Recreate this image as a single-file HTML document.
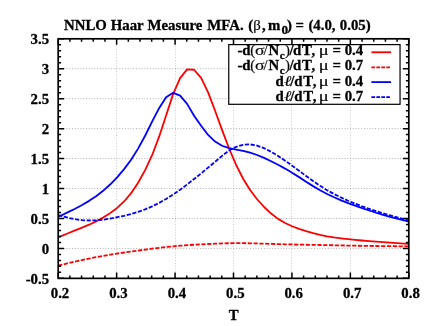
<!DOCTYPE html>
<html><head><meta charset="utf-8"><title>plot</title>
<style>html,body{margin:0;padding:0;background:#fff;overflow:hidden}svg{display:block;will-change:transform;opacity:0.999}text{font-family:"Liberation Serif",serif;font-weight:bold;font-size:14.8px;fill:#000;stroke:#000;stroke-width:0.3px}.sym{font-weight:normal;stroke-width:0.15px}</style></head><body>
<svg width="436" height="326" viewBox="0 0 436 326">
<rect x="0" y="0" width="436" height="326" fill="#fff"/>
<g stroke="#000" stroke-opacity="0.45" stroke-width="0.8" stroke-dasharray="0.9 1.88" fill="none">
<line x1="116.50" y1="277.75" x2="116.50" y2="38.80" stroke-opacity="0.29"/>
<line x1="175.50" y1="277.75" x2="175.50" y2="38.80" stroke-opacity="0.29"/>
<line x1="233.50" y1="277.75" x2="233.50" y2="38.80" stroke-opacity="0.29"/>
<line x1="291.50" y1="277.75" x2="291.50" y2="38.80" stroke-opacity="0.29"/>
<line x1="350.50" y1="277.75" x2="350.50" y2="38.80" stroke-opacity="0.29"/>
<line x1="58.20" y1="248.41" x2="408.80" y2="248.41"/>
<line x1="58.20" y1="218.46" x2="408.80" y2="218.46"/>
<line x1="58.20" y1="188.52" x2="408.80" y2="188.52"/>
<line x1="58.20" y1="158.58" x2="408.80" y2="158.58"/>
<line x1="58.20" y1="128.63" x2="408.80" y2="128.63"/>
<line x1="58.20" y1="98.69" x2="408.80" y2="98.69"/>
<line x1="58.20" y1="68.74" x2="408.80" y2="68.74"/>
</g>
<g fill="none" stroke-width="1.8" stroke-linejoin="round" stroke-linecap="butt">
<path d="M58.2,237.37 L61.1,236.16 L68.1,233.24 L75.1,230.42 L82.1,227.62 L89.1,224.69 L96.1,221.41 L103.1,217.60 L110.1,213.15 L117.1,207.93 L124.1,201.46 L131.1,193.16 L138.1,182.75 L145.1,170.18 L152.1,155.20 L159.1,136.68 L166.1,115.50 L173.1,94.10 L180.1,78.17 L187.1,69.40 L194.1,69.75 L201.1,77.90 L208.1,92.36 L215.1,110.79 L222.1,130.08 L229.1,148.50 L236.1,164.90 L243.1,178.74 L250.1,189.99 L257.1,199.27 L264.1,207.01 L271.1,213.55 L278.1,218.89 L285.1,223.04 L292.1,226.26 L299.1,228.89 L306.1,231.17 L313.1,233.18 L320.1,234.92 L327.1,236.33 L334.1,237.43 L341.1,238.31 L348.1,239.09 L355.1,239.81 L362.1,240.49 L369.1,241.12 L376.1,241.66 L383.1,242.14 L390.1,242.59 L397.1,243.06 L404.1,243.55 L408.8,243.89" stroke="#ff0000"/>
<path d="M58.2,265.66 L61.1,264.93 L68.1,263.19 L75.1,261.56 L82.1,260.02 L89.1,258.57 L96.1,257.19 L103.1,255.90 L110.1,254.69 L117.1,253.56 L124.1,252.51 L131.1,251.50 L138.1,250.53 L145.1,249.59 L152.1,248.69 L159.1,247.83 L166.1,247.03 L173.1,246.32 L180.1,245.71 L187.1,245.19 L194.1,244.74 L201.1,244.35 L208.1,244.00 L215.1,243.69 L222.1,243.43 L229.1,243.26 L236.1,243.17 L243.1,243.18 L250.1,243.29 L257.1,243.46 L264.1,243.67 L271.1,243.89 L278.1,244.10 L285.1,244.29 L292.1,244.45 L299.1,244.60 L306.1,244.73 L313.1,244.85 L320.1,244.98 L327.1,245.12 L334.1,245.27 L341.1,245.42 L348.1,245.58 L355.1,245.72 L362.1,245.84 L369.1,245.94 L376.1,246.02 L383.1,246.10 L390.1,246.18 L397.1,246.26 L404.1,246.34 L408.8,246.40" stroke="#ff0000" stroke-dasharray="4.2 1.6"/>
<path d="M58.2,216.78 L61.1,215.47 L68.1,212.18 L75.1,208.69 L82.1,204.96 L89.1,200.87 L96.1,196.21 L103.1,190.81 L110.1,184.52 L117.1,177.30 L124.1,169.11 L131.1,159.67 L138.1,148.61 L145.1,135.74 L152.1,121.62 L159.1,108.20 L166.1,97.20 L173.1,92.80 L180.1,95.61 L187.1,103.90 L194.1,115.70 L201.1,125.70 L208.1,134.92 L215.1,141.58 L222.1,145.76 L229.1,148.13 L236.1,149.62 L243.1,150.98 L250.1,152.70 L257.1,154.99 L264.1,157.88 L271.1,161.21 L278.1,164.79 L285.1,168.59 L292.1,172.68 L299.1,177.12 L306.1,181.70 L313.1,186.13 L320.1,190.23 L327.1,193.94 L334.1,197.28 L341.1,200.33 L348.1,203.12 L355.1,205.70 L362.1,208.13 L369.1,210.48 L376.1,212.74 L383.1,214.88 L390.1,216.89 L397.1,218.74 L404.1,220.47 L408.8,221.60" stroke="#0000ff"/>
<path d="M58.2,215.02 L61.1,215.82 L68.1,217.79 L75.1,219.23 L82.1,220.14 L89.1,220.50 L96.1,220.33 L103.1,219.67 L110.1,218.58 L117.1,217.18 L124.1,215.76 L131.1,214.07 L138.1,211.90 L145.1,209.35 L152.1,206.37 L159.1,202.91 L166.1,198.96 L173.1,194.55 L180.1,189.81 L187.1,184.47 L194.1,179.02 L201.1,173.41 L208.1,167.60 L215.1,161.85 L222.1,155.87 L229.1,150.51 L236.1,146.86 L243.1,144.79 L250.1,144.41 L257.1,145.63 L264.1,148.19 L271.1,151.76 L278.1,155.99 L285.1,160.66 L292.1,165.64 L299.1,170.82 L306.1,176.02 L313.1,181.09 L320.1,185.86 L327.1,190.20 L334.1,194.08 L341.1,197.56 L348.1,200.75 L355.1,203.66 L362.1,206.34 L369.1,208.80 L376.1,211.11 L383.1,213.29 L390.1,215.36 L397.1,217.33 L404.1,219.20 L408.8,220.59" stroke="#0000ff" stroke-dasharray="4.2 1.6"/>
</g>
<g stroke="#000" stroke-width="1.5" fill="none">
<path d="M58.20,278.35v-5.9M58.20,38.80v5.9"/>
<path d="M69.89,278.35v-2.9M69.89,38.80v2.9"/>
<path d="M81.57,278.35v-2.9M81.57,38.80v2.9"/>
<path d="M93.26,278.35v-2.9M93.26,38.80v2.9"/>
<path d="M104.95,278.35v-2.9M104.95,38.80v2.9"/>
<path d="M116.63,278.35v-5.9M116.63,38.80v5.9"/>
<path d="M128.32,278.35v-2.9M128.32,38.80v2.9"/>
<path d="M140.01,278.35v-2.9M140.01,38.80v2.9"/>
<path d="M151.69,278.35v-2.9M151.69,38.80v2.9"/>
<path d="M163.38,278.35v-2.9M163.38,38.80v2.9"/>
<path d="M175.07,278.35v-5.9M175.07,38.80v5.9"/>
<path d="M186.75,278.35v-2.9M186.75,38.80v2.9"/>
<path d="M198.44,278.35v-2.9M198.44,38.80v2.9"/>
<path d="M210.13,278.35v-2.9M210.13,38.80v2.9"/>
<path d="M221.81,278.35v-2.9M221.81,38.80v2.9"/>
<path d="M233.50,278.35v-5.9M233.50,38.80v5.9"/>
<path d="M245.19,278.35v-2.9M245.19,38.80v2.9"/>
<path d="M256.87,278.35v-2.9M256.87,38.80v2.9"/>
<path d="M268.56,278.35v-2.9M268.56,38.80v2.9"/>
<path d="M280.25,278.35v-2.9M280.25,38.80v2.9"/>
<path d="M291.93,278.35v-5.9M291.93,38.80v5.9"/>
<path d="M303.62,278.35v-2.9M303.62,38.80v2.9"/>
<path d="M315.31,278.35v-2.9M315.31,38.80v2.9"/>
<path d="M326.99,278.35v-2.9M326.99,38.80v2.9"/>
<path d="M338.68,278.35v-2.9M338.68,38.80v2.9"/>
<path d="M350.37,278.35v-5.9M350.37,38.80v5.9"/>
<path d="M362.05,278.35v-2.9M362.05,38.80v2.9"/>
<path d="M373.74,278.35v-2.9M373.74,38.80v2.9"/>
<path d="M385.43,278.35v-2.9M385.43,38.80v2.9"/>
<path d="M397.11,278.35v-2.9M397.11,38.80v2.9"/>
<path d="M408.80,278.35v-5.9M408.80,38.80v5.9"/>
<path d="M58.20,278.35h5.9M408.80,278.35h-5.9"/>
<path d="M58.20,272.36h2.9M408.80,272.36h-2.9"/>
<path d="M58.20,266.37h2.9M408.80,266.37h-2.9"/>
<path d="M58.20,260.38h2.9M408.80,260.38h-2.9"/>
<path d="M58.20,254.40h2.9M408.80,254.40h-2.9"/>
<path d="M58.20,248.41h5.9M408.80,248.41h-5.9"/>
<path d="M58.20,242.42h2.9M408.80,242.42h-2.9"/>
<path d="M58.20,236.43h2.9M408.80,236.43h-2.9"/>
<path d="M58.20,230.44h2.9M408.80,230.44h-2.9"/>
<path d="M58.20,224.45h2.9M408.80,224.45h-2.9"/>
<path d="M58.20,218.46h5.9M408.80,218.46h-5.9"/>
<path d="M58.20,212.47h2.9M408.80,212.47h-2.9"/>
<path d="M58.20,206.49h2.9M408.80,206.49h-2.9"/>
<path d="M58.20,200.50h2.9M408.80,200.50h-2.9"/>
<path d="M58.20,194.51h2.9M408.80,194.51h-2.9"/>
<path d="M58.20,188.52h5.9M408.80,188.52h-5.9"/>
<path d="M58.20,182.53h2.9M408.80,182.53h-2.9"/>
<path d="M58.20,176.54h2.9M408.80,176.54h-2.9"/>
<path d="M58.20,170.55h2.9M408.80,170.55h-2.9"/>
<path d="M58.20,164.56h2.9M408.80,164.56h-2.9"/>
<path d="M58.20,158.58h5.9M408.80,158.58h-5.9"/>
<path d="M58.20,152.59h2.9M408.80,152.59h-2.9"/>
<path d="M58.20,146.60h2.9M408.80,146.60h-2.9"/>
<path d="M58.20,140.61h2.9M408.80,140.61h-2.9"/>
<path d="M58.20,134.62h2.9M408.80,134.62h-2.9"/>
<path d="M58.20,128.63h5.9M408.80,128.63h-5.9"/>
<path d="M58.20,122.64h2.9M408.80,122.64h-2.9"/>
<path d="M58.20,116.65h2.9M408.80,116.65h-2.9"/>
<path d="M58.20,110.66h2.9M408.80,110.66h-2.9"/>
<path d="M58.20,104.68h2.9M408.80,104.68h-2.9"/>
<path d="M58.20,98.69h5.9M408.80,98.69h-5.9"/>
<path d="M58.20,92.70h2.9M408.80,92.70h-2.9"/>
<path d="M58.20,86.71h2.9M408.80,86.71h-2.9"/>
<path d="M58.20,80.72h2.9M408.80,80.72h-2.9"/>
<path d="M58.20,74.73h2.9M408.80,74.73h-2.9"/>
<path d="M58.20,68.74h5.9M408.80,68.74h-5.9"/>
<path d="M58.20,62.75h2.9M408.80,62.75h-2.9"/>
<path d="M58.20,56.77h2.9M408.80,56.77h-2.9"/>
<path d="M58.20,50.78h2.9M408.80,50.78h-2.9"/>
<path d="M58.20,44.79h2.9M408.80,44.79h-2.9"/>
<path d="M58.20,38.80h5.9M408.80,38.80h-5.9"/>
</g>
<rect x="228.75" y="44.6" width="171.3" height="59.7" fill="#fff" stroke="#000" stroke-width="1.2"/>
<line x1="371.4" y1="52.25" x2="391.0" y2="52.25" stroke="#ff0000" stroke-width="1.8"/>
<text x="237.45" y="55.0">-d</text>
<text x="250.20" y="55.0" class="sym">(</text>
<text class="sym" transform="translate(255.00,55.0) scale(1.19,1)" x="0" y="0">σ</text>
<text x="263.50" y="55.0" class="sym">/</text>
<text x="268.50" y="55.0">N</text>
<text x="279.7" y="59.30" style="font-size:11.2px">c</text>
<text x="285.00" y="55.0" class="sym">)</text>
<text x="289.40" y="55.0">/</text>
<text x="292.90" y="55.0" letter-spacing="0.8">dT,</text>
<text class="sym" transform="translate(318.80,55.0) scale(1.25,1)" x="0" y="0">μ</text>
<text x="363.2" y="55.0" text-anchor="end">= 0.4</text>
<line x1="371.4" y1="67.3" x2="390.2" y2="67.3" stroke="#ff0000" stroke-width="1.8" stroke-dasharray="3.7 1.25"/>
<text x="237.45" y="69.75">-d</text>
<text x="250.20" y="69.75" class="sym">(</text>
<text class="sym" transform="translate(255.00,69.75) scale(1.19,1)" x="0" y="0">σ</text>
<text x="263.50" y="69.75" class="sym">/</text>
<text x="268.50" y="69.75">N</text>
<text x="279.7" y="74.05" style="font-size:11.2px">c</text>
<text x="285.00" y="69.75" class="sym">)</text>
<text x="289.40" y="69.75">/</text>
<text x="292.90" y="69.75" letter-spacing="0.8">dT,</text>
<text class="sym" transform="translate(318.80,69.75) scale(1.25,1)" x="0" y="0">μ</text>
<text x="363.2" y="69.75" text-anchor="end">= 0.7</text>
<line x1="371.4" y1="82.1" x2="391.0" y2="82.1" stroke="#0000ff" stroke-width="1.8"/>
<text x="275.40" y="86.3">d</text>
<text class="sym" font-style="italic" transform="translate(283.9,86.3) scale(1.2,1)" x="0" y="0">ℓ</text>
<text x="290.30" y="86.3">/</text>
<text x="294.30" y="86.3" letter-spacing="0.7">dT,</text>
<text class="sym" transform="translate(318.80,86.3) scale(1.25,1)" x="0" y="0">μ</text>
<text x="363.2" y="86.3" text-anchor="end">= 0.4</text>
<line x1="371.4" y1="97.05" x2="390.2" y2="97.05" stroke="#0000ff" stroke-width="1.8" stroke-dasharray="3.7 1.25"/>
<text x="275.40" y="100.8">d</text>
<text class="sym" font-style="italic" transform="translate(283.9,100.8) scale(1.2,1)" x="0" y="0">ℓ</text>
<text x="290.30" y="100.8">/</text>
<text x="294.30" y="100.8" letter-spacing="0.7">dT,</text>
<text class="sym" transform="translate(318.80,100.8) scale(1.25,1)" x="0" y="0">μ</text>
<text x="363.2" y="100.8" text-anchor="end">= 0.7</text>
<rect x="58.2" y="38.8" width="350.60" height="239.55" fill="none" stroke="#000" stroke-width="1.7"/>
<text x="60.0" y="297.7" text-anchor="middle">0.2</text>
<text x="118.4" y="297.7" text-anchor="middle">0.3</text>
<text x="176.9" y="297.7" text-anchor="middle">0.4</text>
<text x="235.3" y="297.7" text-anchor="middle">0.5</text>
<text x="293.7" y="297.7" text-anchor="middle">0.6</text>
<text x="352.2" y="297.7" text-anchor="middle">0.7</text>
<text x="410.6" y="297.7" text-anchor="middle">0.8</text>
<text x="49.1" y="283.9" text-anchor="end">-0.5</text>
<text x="49.1" y="253.9" text-anchor="end">0</text>
<text x="49.1" y="224.0" text-anchor="end">0.5</text>
<text x="49.1" y="194.0" text-anchor="end">1</text>
<text x="49.1" y="164.1" text-anchor="end">1.5</text>
<text x="49.1" y="134.1" text-anchor="end">2</text>
<text x="49.1" y="104.2" text-anchor="end">2.5</text>
<text x="49.1" y="74.2" text-anchor="end">3</text>
<text x="49.1" y="44.3" text-anchor="end">3.5</text>
<text x="64.1" y="30.3">NNLO</text>
<text x="110.8" y="30.3">Haar</text>
<text x="147.5" y="30.3">Measure</text>
<text x="207.3" y="30.3">MFA.</text>
<text x="248.3" y="30.3">(<tspan class="sym">β</tspan></text>
<text x="262.0" y="30.3">,</text>
<text x="268.1" y="30.3">m<tspan font-size="13.2" dx="1" dy="4.0">0</tspan></text>
<text x="287.0" y="30.3">)</text>
<text x="295.4" y="30.3">=</text>
<text x="308.4" y="30.3">(4.0,</text>
<text x="339.8" y="30.3">0.05)</text>
<text x="233.8" y="319.6" text-anchor="middle">T</text>
</svg></body></html>
